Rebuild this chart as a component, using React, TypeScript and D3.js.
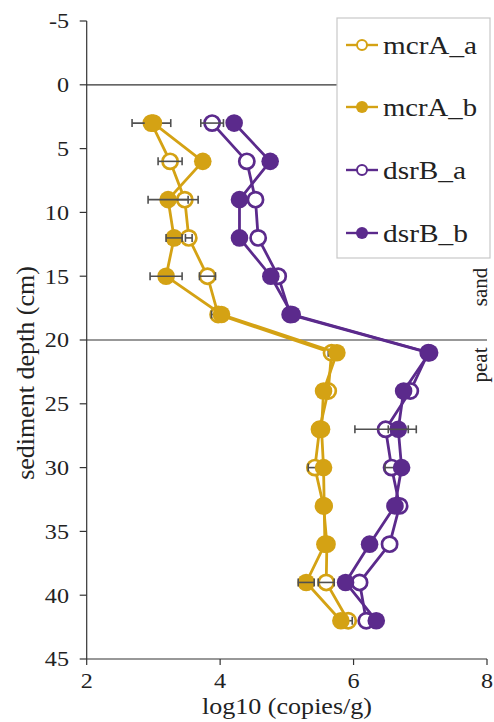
import React from "react";
import * as d3 from "d3";

const depths = [3, 6, 9, 12, 15, 18, 21, 24, 27, 30, 33, 36, 39, 42];
const mcrA_a = [2.97, 3.25, 3.47, 3.53, 3.81, 3.97, 5.67, 5.62, 5.49, 5.42, 5.55, 5.6, 5.59, 5.92];
const mcrA_a_err = [0.29, 0.18, 0.2, 0.05, 0.12, 0.1, 0.05, 0, 0, 0.1, 0, 0.07, 0.12, 0.06];
const mcrA_b = [3.0, 3.74, 3.22, 3.31, 3.19, 4.02, 5.75, 5.55, 5.52, 5.55, 5.56, 5.57, 5.29, 5.81];
const mcrA_b_err = [0, 0, 0.3, 0.12, 0.24, 0, 0, 0, 0, 0, 0, 0, 0.12, 0];
const dsrB_a = [3.88, 4.4, 4.53, 4.57, 4.87, 5.05, 7.12, 6.85, 6.48, 6.57, 6.69, 6.54, 6.09, 6.19];
const dsrB_a_err = [0.17, 0, 0, 0, 0, 0, 0, 0, 0.46, 0.1, 0, 0, 0, 0];
const dsrB_b = [4.21, 4.75, 4.29, 4.29, 4.76, 5.08, 7.14, 6.75, 6.67, 6.72, 6.62, 6.24, 5.88, 6.34];
const dsrB_b_err = [0, 0, 0, 0, 0, 0, 0, 0, 0.15, 0, 0, 0, 0, 0];

const seriesNames = ["mcrA_a", "mcrA_b", "dsrB_a", "dsrB_b"];
const xTicks = [2, 4, 6, 8];
const yTicks = [-5, 0, 5, 10, 15, 20, 25, 30, 35, 40, 45];
const boundaryDepths = [0, 20];
const layerLabels = ["sand", "peat"];

const GOLD = "#D4A214";
const PURPLE = "#5B2A8C";

const series = [
  { name: seriesNames[0], values: mcrA_a, err: mcrA_a_err, color: GOLD, open: true },
  { name: seriesNames[1], values: mcrA_b, err: mcrA_b_err, color: GOLD, open: false },
  { name: seriesNames[2], values: dsrB_a, err: dsrB_a_err, color: PURPLE, open: true },
  { name: seriesNames[3], values: dsrB_b, err: dsrB_b_err, color: PURPLE, open: false },
];

const txt: React.CSSProperties = { fontFamily: "Liberation Serif", fill: "#222" };

export default function App() {
  const W = 494, H = 722;
  const x = d3.scaleLinear().domain([2, 8]).range([86.7, 487]);
  const y = d3.scaleLinear().domain([-5, 45]).range([21, 659]);
  const line = d3.line<[number, number]>().x((d) => x(d[0])).y((d) => y(d[1]));
  const axisColor = "#333";

  const legend = { x: 337, y: 18, w: 153, h: 240 };
  const legendRows = [45, 107, 170, 233];
  const legendWidths = [94, 94, 83, 85];

  return (
    <svg width={W} height={H} style={{ position: "absolute", left: 0, top: 0, background: "#fff" }}>
      {boundaryDepths.map((d) => (
        <line key={d} x1={x(2)} x2={x(8)} y1={y(d)} y2={y(d)} stroke={axisColor} strokeWidth={1.2} />
      ))}
      <line x1={x(2)} x2={x(2)} y1={y(-5)} y2={y(45)} stroke={axisColor} strokeWidth={1.2} />
      <line x1={x(2)} x2={x(8)} y1={y(45)} y2={y(45)} stroke={axisColor} strokeWidth={1.2} />
      {yTicks.map((t) => (
        <g key={"y" + t}>
          <line x1={x(2) - 7} x2={x(2)} y1={y(t)} y2={y(t)} stroke={axisColor} strokeWidth={1.2} />
          <text transform={`translate(69,${y(t)}) scale(1.15,1)`} dy="0.35em" textAnchor="end" fontSize={21} style={txt}>{t}</text>
        </g>
      ))}
      {xTicks.map((t) => (
        <g key={"x" + t}>
          <line x1={x(t)} x2={x(t)} y1={y(45)} y2={y(45) + 6} stroke={axisColor} strokeWidth={1.2} />
          <text transform={`translate(${x(t)},688) scale(1.15,1)`} textAnchor="middle" fontSize={21} style={txt}>{t}</text>
        </g>
      ))}
      <text x={202} y={714} textLength={170} lengthAdjust="spacingAndGlyphs" fontSize={23} style={txt}>log10 (copies/g)</text>
      <text transform={`translate(34,373) rotate(-90)`} textAnchor="middle" fontSize={26} style={txt}>sediment depth (cm)</text>
      <text transform={`translate(487,287) rotate(-90)`} textAnchor="middle" fontSize={21} style={txt}>{layerLabels[0]}</text>
      <text transform={`translate(487,365) rotate(-90)`} textAnchor="middle" fontSize={21} style={txt}>{layerLabels[1]}</text>

      {series.map((s) => {
        const pts = s.values.map((v, i) => [v, depths[i]] as [number, number]);
        return (
          <g key={s.name}>
            <path d={line(pts) || ""} fill="none" stroke={s.color} strokeWidth={2.8} />
            {pts.map((p, i) =>
              s.open ? (
                <circle key={i} cx={x(p[0])} cy={y(p[1])} r={7.6} fill="#fff" stroke={s.color} strokeWidth={2.7} />
              ) : (
                <circle key={i} cx={x(p[0])} cy={y(p[1])} r={8.8} fill={s.color} />
              )
            )}
            {pts.map((p, i) =>
              s.err[i] > 0 ? (
                <g key={"e" + i} stroke="#505050" strokeWidth={1.6}>
                  <line x1={x(p[0] - s.err[i])} x2={x(p[0] + s.err[i])} y1={y(p[1])} y2={y(p[1])} />
                  <line x1={x(p[0] - s.err[i])} x2={x(p[0] - s.err[i])} y1={y(p[1]) - 4} y2={y(p[1]) + 4} />
                  <line x1={x(p[0] + s.err[i])} x2={x(p[0] + s.err[i])} y1={y(p[1]) - 4} y2={y(p[1]) + 4} />
                </g>
              ) : null
            )}
          </g>
        );
      })}

      <rect x={legend.x} y={legend.y} width={legend.w} height={legend.h} fill="#fff" stroke="#c8c8c8" strokeWidth={1.2} />
      {series.map((s, i) => (
        <g key={"lg" + s.name}>
          <line x1={346} x2={378} y1={legendRows[i]} y2={legendRows[i]} stroke={s.color} strokeWidth={2.4} />
          {s.open ? (
            <circle cx={362} cy={legendRows[i]} r={5} fill="#fff" stroke={s.color} strokeWidth={2} />
          ) : (
            <circle cx={362} cy={legendRows[i]} r={6} fill={s.color} />
          )}
          <text x={383} y={legendRows[i]} dy="0.35em" fontSize={25} textLength={legendWidths[i]} lengthAdjust="spacingAndGlyphs" style={txt}>{s.name}</text>
        </g>
      ))}
    </svg>
  );
}
